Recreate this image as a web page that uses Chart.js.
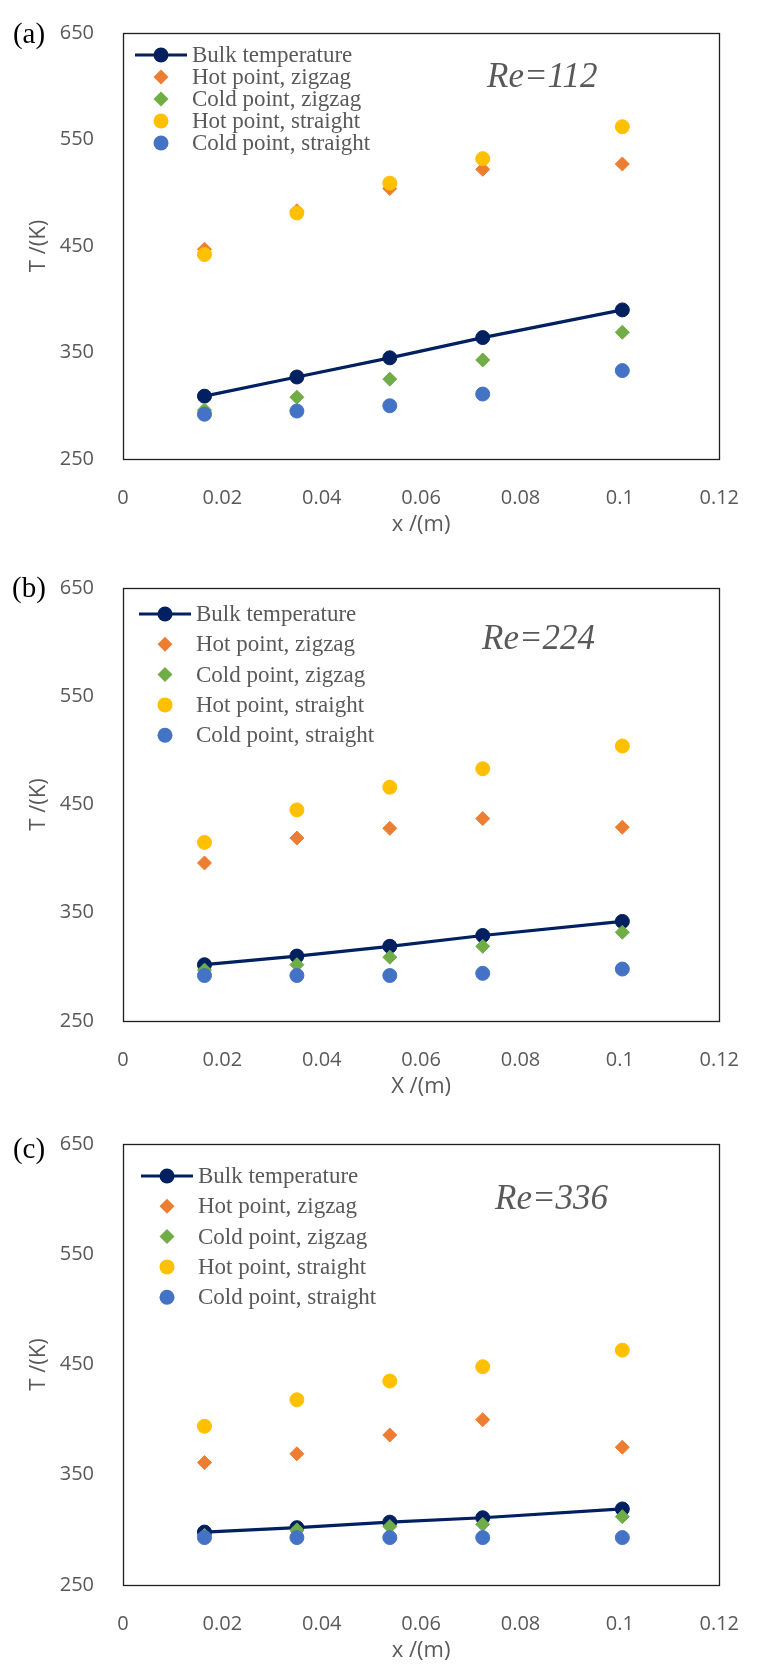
<!DOCTYPE html>
<html>
<head>
<meta charset="utf-8">
<script src="https://cdn.jsdelivr.net/npm/chart.js@4.4.1/dist/chart.umd.min.js"></script>
<style>
  html, body { margin: 0; padding: 0; background: #ffffff; overflow: hidden; width: 758px; height: 1664px; }
  .panel { position: absolute; left: 0; width: 758px; }
  canvas { display: block; }
</style>
</head>
<body>
<div class="panel" style="top:0px;height:555px"><canvas id="chartA" width="758" height="555"></canvas></div>
<div class="panel" style="top:555px;height:555px"><canvas id="chartB" width="758" height="555"></canvas></div>
<div class="panel" style="top:1110px;height:554px"><canvas id="chartC" width="758" height="554"></canvas></div>
<script>
// ---------------- data ----------------
const xValues = [0.0164, 0.035, 0.0537, 0.0724, 0.1005];
const seriesNames = ['Bulk temperature', 'Hot point, zigzag', 'Cold point, zigzag', 'Hot point, straight', 'Cold point, straight'];
const xTickLabels = ['0', '0.02', '0.04', '0.06', '0.08', '0.1', '0.12'];
const yTickLabels = ['250', '350', '450', '550', '650'];
const panelTags = ['(a)', '(b)', '(c)'];
const reLabels = ['Re=112', 'Re=224', 'Re=336'];
const xTitles = ['x /(m)', 'X /(m)', 'x /(m)'];
const yTitle = 'T /(K)';

// (a) Re = 112
const bulkA         = [309, 327, 345, 364, 390];
const hotZigzagA    = [447, 483, 504, 522, 527];
const coldZigzagA   = [296, 308, 325, 343, 369];
const hotStraightA  = [442, 481, 509, 532, 562];
const coldStraightA = [292, 295, 300, 311, 333];

// (b) Re = 224
const bulkB         = [302, 310, 319, 329, 342];
const hotZigzagB    = [396, 419, 428, 437, 429];
const coldZigzagB   = [297, 302, 309, 319, 332];
const hotStraightB  = [415, 445, 466, 483, 504];
const coldStraightB = [292, 292, 292, 294, 298];

// (c) Re = 336
const bulkC         = [298, 302, 307, 311, 319];
const hotZigzagC    = [361, 369, 386, 400, 375];
const coldZigzagC   = [295, 300, 303, 305, 312];
const hotStraightC  = [394, 418, 435, 448, 463];
const coldStraightC = [293, 293, 293, 293, 293];

// ---------------- styles ----------------
const seriesColors = ['#002060', '#ED7D31', '#70AD47', '#FFC000', '#4472C4'];
const seriesShapes = ['circle', 'rectRot', 'rectRot', 'circle', 'circle'];
const textGrey = '#595959';
const sansFont = "'Open Sans', 'Liberation Sans', sans-serif";
const serifFont = "'Liberation Serif', 'Times New Roman', serif";

const layouts = [
  { padTop: 20, padRight: 28, xAxisH: 96, xTitlePad: 17, legTop: 22, legGap: 22,   legMarkX: 38, legTextX: 69, reX: 364, reY: 45, tagY: 2 },
  { padTop: 27, padRight: 24, xAxisH: 89, xTitlePad: 10, legTop: 26, legGap: 30.3, legMarkX: 42, legTextX: 73, reX: 359, reY: 52, tagY: 1 },
  { padTop: 34, padRight: 21, xAxisH: 79, xTitlePad: 0,  legTop: 32, legGap: 30.3, legMarkX: 44, legTextX: 75, reX: 372, reY: 56, tagY: 6 }
];

function findLabel(list, v) {
  const hit = list.find(l => Math.abs(parseFloat(l) - v) < 1e-9);
  return hit === undefined ? '' : hit;
}

function drawMarker(ctx, shape, x, y, r, color) {
  ctx.fillStyle = color;
  ctx.beginPath();
  if (shape === 'circle') {
    ctx.arc(x, y, r, 0, Math.PI * 2);
  } else {
    ctx.moveTo(x - r, y); ctx.lineTo(x, y - r); ctx.lineTo(x + r, y); ctx.lineTo(x, y + r); ctx.closePath();
  }
  ctx.fill();
}

const decorPlugin = {
  id: 'decor',
  beforeDatasetsDraw(chart) {
    const { ctx, chartArea: a } = chart;
    ctx.save();
    ctx.strokeStyle = '#1f1f1f';
    ctx.lineWidth = 1.3;
    ctx.strokeRect(Math.round(a.left) + 0.5, Math.round(a.top) + 0.5, Math.round(a.right - a.left), Math.round(a.bottom - a.top));
    ctx.restore();
  },
  afterDraw(chart, args, opts) {
    const { ctx, chartArea: a } = chart;
    const L = opts.layout;
    ctx.save();
    // legend
    chart.data.datasets.forEach((ds, i) => {
      const y = a.top + L.legTop + i * L.legGap;
      const mx = a.left + L.legMarkX;
      if (ds.showLine) {
        ctx.strokeStyle = ds.borderColor;
        ctx.lineWidth = 3.2;
        ctx.beginPath(); ctx.moveTo(mx - 26, y); ctx.lineTo(mx + 26, y); ctx.stroke();
      }
      drawMarker(ctx, ds.pointStyle, mx, y, 7.5, ds.backgroundColor);
      ctx.fillStyle = textGrey;
      ctx.font = '23px ' + serifFont;
      ctx.textAlign = 'left';
      ctx.textBaseline = 'middle';
      ctx.fillText(ds.label, a.left + L.legTextX, y + 1);
    });
    // Re label
    ctx.fillStyle = textGrey;
    ctx.font = 'italic 35px ' + serifFont;
    ctx.textAlign = 'left';
    ctx.textBaseline = 'middle';
    ctx.fillText(opts.re, a.left + L.reX, a.top + L.reY);
    // panel tag
    ctx.fillStyle = '#000000';
    ctx.font = '29px ' + serifFont;
    ctx.textAlign = 'center';
    ctx.fillText(opts.tag, 29, a.top + L.tagY);
    ctx.restore();
  }
};

function makePanel(canvasId, idx, series) {
  const L = layouts[idx];
  const datasets = series.map((vals, s) => ({
    label: seriesNames[s],
    data: xValues.map((x, k) => ({ x: x, y: vals[k] })),
    showLine: s === 0,
    borderColor: seriesColors[s],
    backgroundColor: seriesColors[s],
    borderWidth: s === 0 ? 3.2 : 1,
    pointStyle: seriesShapes[s],
    pointRadius: 7,
    pointBorderWidth: 1,
    pointBorderColor: seriesColors[s],
    pointBackgroundColor: seriesColors[s],
    order: 5 - s
  }));
  return new Chart(document.getElementById(canvasId), {
    type: 'scatter',
    data: { datasets },
    options: {
      responsive: false,
      animation: false,
      devicePixelRatio: 1,
      layout: { padding: { top: L.padTop, right: L.padRight, left: 0, bottom: 0 } },
      plugins: {
        legend: { display: false },
        tooltip: { enabled: false },
        decor: { layout: L, re: reLabels[idx], tag: panelTags[idx] }
      },
      scales: {
        x: {
          type: 'linear', min: 0, max: 0.12,
          grid: { display: false }, border: { display: false },
          ticks: { stepSize: 0.02, padding: 19, color: textGrey, font: { family: sansFont, size: 20 },
                   callback: v => findLabel(xTickLabels, v) },
          title: { display: true, text: xTitles[idx], color: textGrey, font: { family: sansFont, size: 22 },
                   padding: { top: 0, bottom: L.xTitlePad } },
          afterFit: s => { s.height = L.xAxisH; }
        },
        y: {
          type: 'linear', min: 250, max: 650,
          grid: { display: false }, border: { display: false },
          ticks: { stepSize: 100, padding: 21, color: textGrey, font: { family: sansFont, size: 20 },
                   callback: v => findLabel(yTickLabels, v) },
          title: { display: true, text: yTitle, color: textGrey, font: { family: sansFont, size: 22 },
                   padding: { top: 26, bottom: 0 } },
          afterFit: s => { s.width = 123; }
        }
      }
    },
    plugins: [decorPlugin]
  });
}

makePanel('chartA', 0, [bulkA, hotZigzagA, coldZigzagA, hotStraightA, coldStraightA]);
makePanel('chartB', 1, [bulkB, hotZigzagB, coldZigzagB, hotStraightB, coldStraightB]);
makePanel('chartC', 2, [bulkC, hotZigzagC, coldZigzagC, hotStraightC, coldStraightC]);
</script>
</body>
</html>
